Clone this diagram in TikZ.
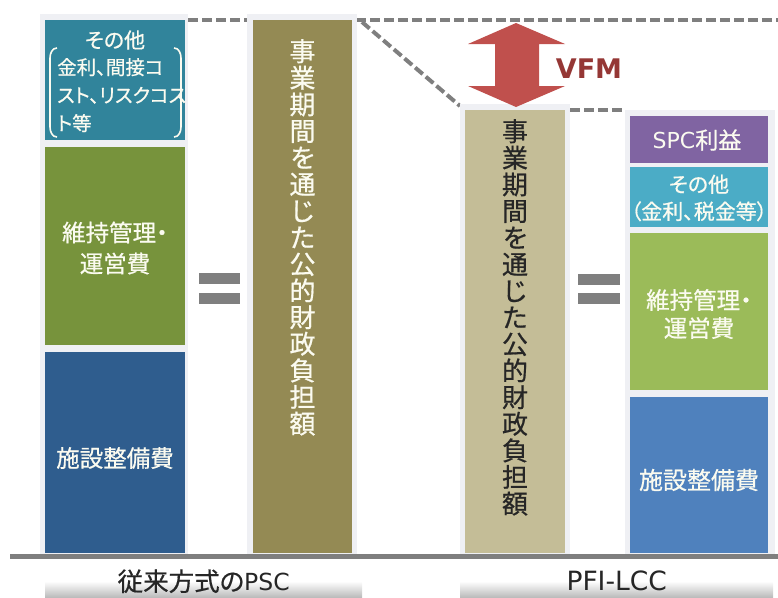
\documentclass[tikz,border=0pt]{standalone}
\usepackage{fontspec}
\setmainfont{Noto Sans CJK JP}[RawFeature=+palt, FakeBold=0.6]
\newfontfamily\vfmfont{DejaVu Sans}
\newfontfamily\latfont{DejaVu Sans}
\usetikzlibrary{shadings}
\definecolor{cteal}{HTML}{31849B}
\definecolor{colgreen}{HTML}{77933C}
\definecolor{cnavy}{HTML}{2F5D8E}
\definecolor{colive}{HTML}{948A54}
\definecolor{ckhaki}{HTML}{C4BD97}
\definecolor{cpurple}{HTML}{8064A2}
\definecolor{ccyan}{HTML}{4BACC6}
\definecolor{clgreen}{HTML}{9BBB59}
\definecolor{cblue}{HTML}{4F81BD}
\definecolor{cred}{HTML}{C0504D}
\definecolor{cdred}{HTML}{953735}
\definecolor{cgray}{HTML}{7F7F7F}
\definecolor{cpanel}{HTML}{EFF0F4}
\definecolor{ctext}{HTML}{FBFBF0}
\tikzset{
  panel/.style={fill=cpanel, draw=none, anchor=north west, inner sep=0pt},
  block/.style={draw=none, anchor=north west, inner sep=0pt},
  wtext/.style={text=ctext, align=center, inner sep=0pt},
  vtext/.style={align=center, inner sep=0pt, anchor=north, font=\fontsize{26}{26.6}\selectfont},
  dashline/.style={draw=cgray, line width=4pt, dash pattern=on 10pt off 4pt},
  eqbar/.style={fill=cgray},
  labelbox/.style={anchor=north west, inner sep=0pt, top color=white, bottom color=black!30, middle color=white, text=black!85},
}
\begin{document}
\begin{tikzpicture}[x=1pt, y=-1pt]
\useasboundingbox (0,0) rectangle (778,597);
% dashed guide lines
\coordinate (d1) at (188,20);
\coordinate (d2) at (778,20);
\coordinate (d3) at (362,22);
\coordinate (d4) at (460,106);
\coordinate (d5) at (570,110);
\coordinate (d6) at (625,110);
\draw[dashline] (d1) -- (d2);
\draw[dashline] (d3) -- (d4);
\draw[dashline] (d5) -- (d6);
% panels
\node[panel, minimum width=148pt, minimum height=542pt] (p1) at (40,14) {};
\node[panel, minimum width=110pt, minimum height=542pt] (p2) at (247,14) {};
\node[panel, minimum width=110pt, minimum height=452pt] (p3) at (460,104) {};
\node[panel, minimum width=150pt, minimum height=446pt] (p4) at (625,110) {};
% left breakdown
\node[block, fill=cteal, minimum width=140pt, minimum height=120pt] (b1) at (45,20) {};
\node[block, fill=colgreen, minimum width=140pt, minimum height=198pt] (b2) at (45,147) {};
\node[block, fill=cnavy, minimum width=140pt, minimum height=201pt] (b3) at (45,352) {};
\node[wtext, font=\fontsize{21}{24}\selectfont] (t1a) at (115,40) {その他};
\node[wtext, align=left, anchor=north west, font=\fontsize{19.5}{28}\selectfont] (t1b) at (57,58) {金利、間接コ\\スト、リスクコス\\ト等};
\draw[ctext, line width=1.6pt] (57,48) to[out=180,in=90] (50,58) -- (50,127) to[out=-90,in=180] (57,137);
\draw[ctext, line width=1.6pt] (174,48) to[out=0,in=90] (181,58) -- (181,127) to[out=-90,in=0] (174,137);
\node[wtext, font=\fontsize{23.5}{31}\selectfont] (t2) at (115,248) {維持管理・\\運営費};
\node[wtext, font=\fontsize{23.5}{26}\selectfont] (t3) at (115,458) {施設整備費};
% equal signs
\fill[eqbar] (199,273) rectangle (240,284);
\fill[eqbar] (199,293) rectangle (240,304);
\fill[eqbar] (578,274) rectangle (620,285);
\fill[eqbar] (578,293) rectangle (620,304);
% PSC total
\node[block, fill=colive, minimum width=99pt, minimum height=533pt] (c2) at (253,20) {};
\node[vtext, text=ctext] (v2) at (302.5,39) {事\\業\\期\\間\\を\\通\\じ\\た\\公\\的\\財\\政\\負\\担\\額};
% PFI total
\node[block, fill=ckhaki, minimum width=100pt, minimum height=443pt] (c3) at (465,110) {};
\node[vtext, text=black!85] (v3) at (515,119) {事\\業\\期\\間\\を\\通\\じ\\た\\公\\的\\財\\政\\負\\担\\額};
% right breakdown
\node[block, fill=cpurple, minimum width=138pt, minimum height=47pt] (r1) at (630,116) {};
\node[block, fill=ccyan, minimum width=138pt, minimum height=60pt] (r2) at (630,167) {};
\node[block, fill=clgreen, minimum width=138pt, minimum height=157pt] (r3) at (630,233) {};
\node[block, fill=cblue, minimum width=138pt, minimum height=156pt] (r4) at (630,397) {};
\node[wtext, font=\fontsize{23}{24}\selectfont] (s1) at (697,140) {{\latfont\fontsize{22}{24}\selectfont SPC}利益};
\node[wtext, font=\fontsize{21}{27}\selectfont] (s2) at (699,198) {その他\\（金利、税金等）};
\node[wtext, font=\fontsize{23.5}{28}\selectfont] (s3) at (699,314) {維持管理・\\運営費};
\node[wtext, font=\fontsize{24}{26}\selectfont] (s4) at (699,480) {施設整備費};
% VFM arrow
\coordinate (aT) at (516,23);
\coordinate (aB) at (516,107);
\fill[cred] (aT) -- (565,44) -- (539,44) -- (539,86) -- (565,86) -- (aB) -- (468,86) -- (495,86) -- (495,44) -- (468,44) -- cycle;
\node[text=cdred, inner sep=0pt, font=\vfmfont\bfseries\fontsize{27}{30}\selectfont] (vfm) at (589,69) {VFM};
% baseline
\coordinate (g1) at (10,556);
\coordinate (g2) at (778,556);
\draw[cgray, line width=5pt] (g1) -- (g2);
% labels
\node[labelbox, minimum width=317pt, minimum height=36pt, font=\fontsize{25.5}{27}\selectfont] (L1) at (45,563) {従来方式の{\latfont\fontsize{23.5}{27}\selectfont PSC}};
\node[labelbox, minimum width=313pt, minimum height=36pt, font=\latfont\fontsize{26.5}{28}\selectfont] (L2) at (460,563) {PFI-LCC};
\end{tikzpicture}
\end{document}
